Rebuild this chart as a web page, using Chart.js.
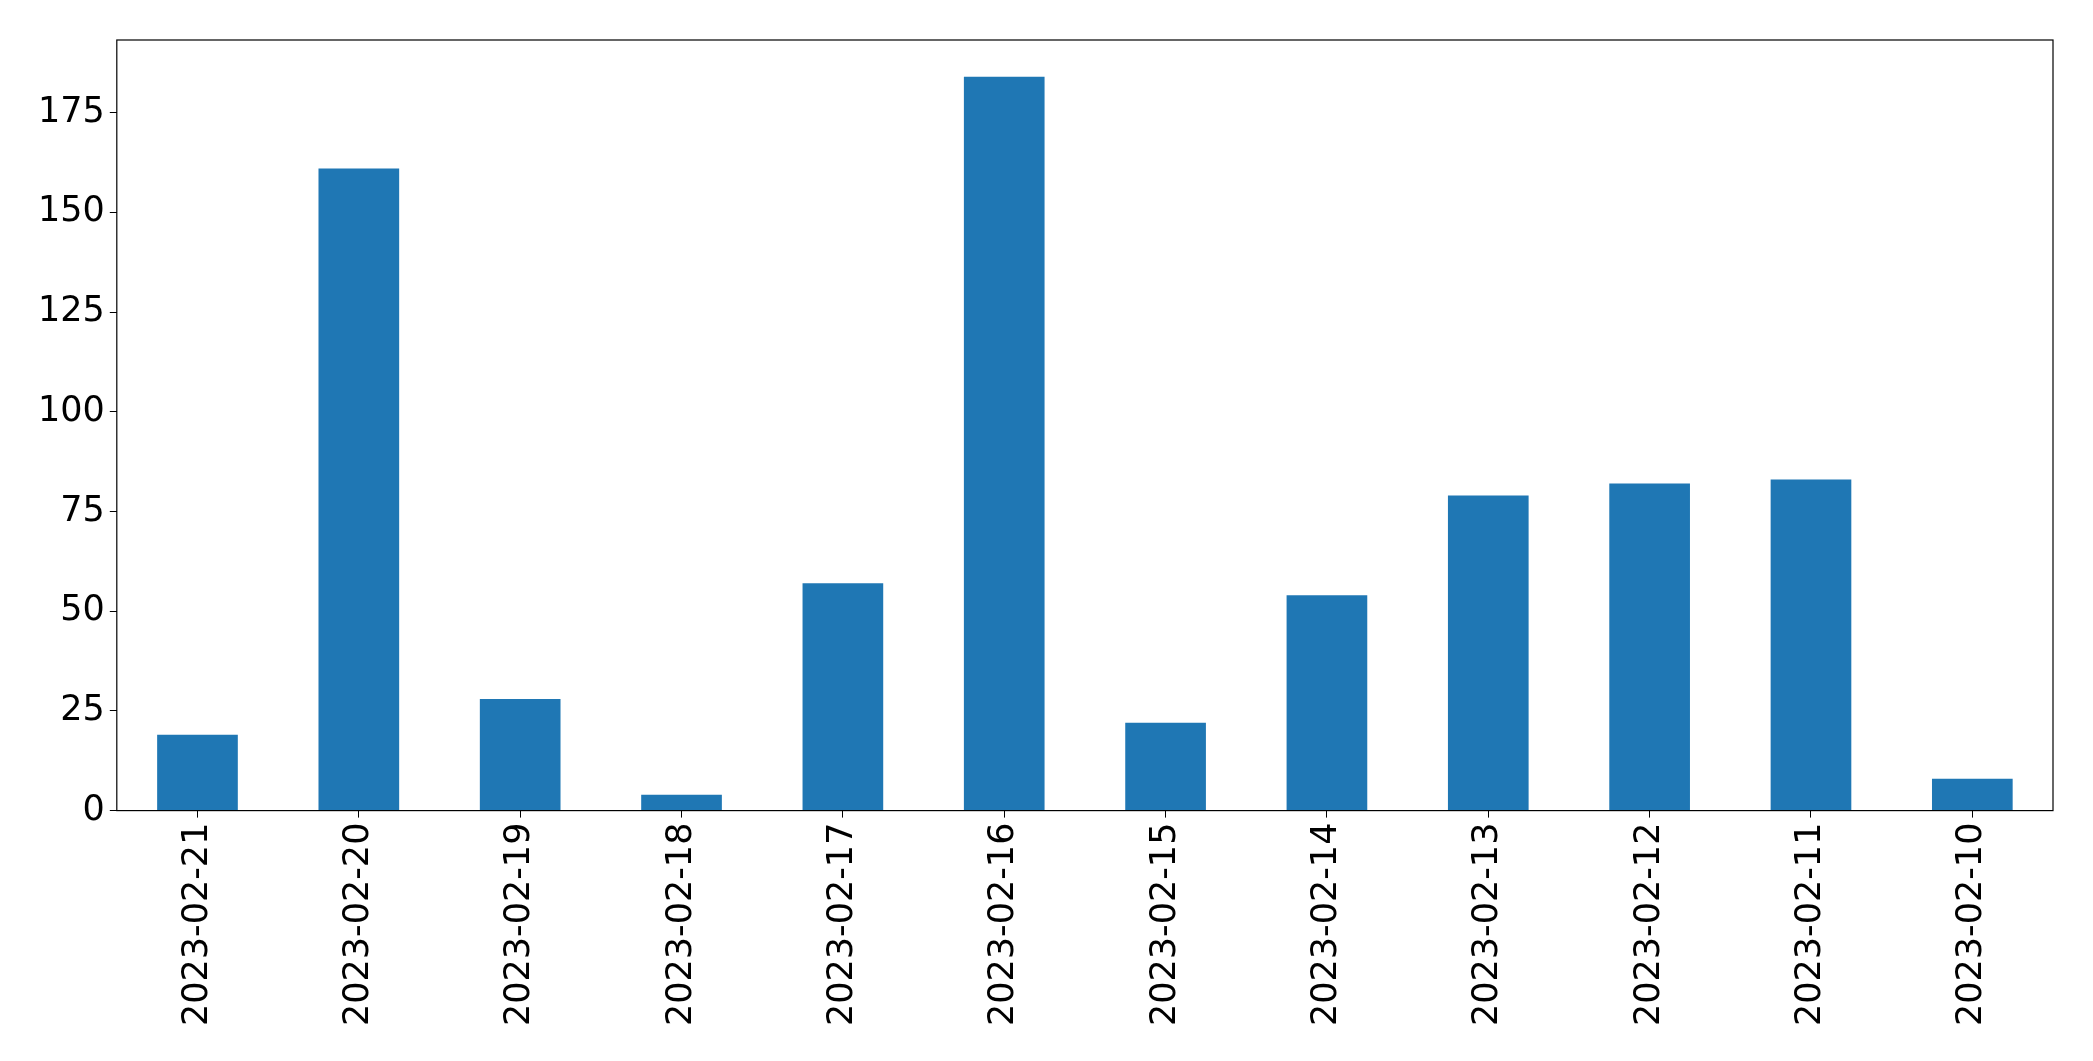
<!DOCTYPE html>
<html>
<head>
<meta charset="utf-8">
<script src="https://cdn.jsdelivr.net/npm/chart.js@4"></script>
<style>
  html, body { margin: 0; padding: 0; background: #fff; }
  #wrap { width: 2093px; height: 1061px; }
</style>
</head>
<body>
<div id="wrap"><canvas id="myChart"></canvas></div>
<script>
const dates = [
    '2023-02-21', '2023-02-20', '2023-02-19', '2023-02-18',
    '2023-02-17', '2023-02-16', '2023-02-15', '2023-02-14',
    '2023-02-13', '2023-02-12', '2023-02-11', '2023-02-10'
];
const counts = [19, 161, 28, 4, 57, 184, 22, 54, 79, 82, 83, 8];
const yTicks = [0, 25, 50, 75, 100, 125, 150, 175];

// box around the plot area like matplotlib's spines
const frame = {
    id: 'frame',
    afterDraw(chart) {
        const a = chart.chartArea;
        const c = chart.ctx;
        c.save();
        c.strokeStyle = '#000';
        c.lineWidth = 1.2;
        c.strokeRect(a.left, a.top, a.right - a.left, a.bottom - a.top);
        c.restore();
    }
};

const ctx = document.getElementById('myChart');

new Chart(ctx, {
    type: 'bar',
    data: {
        labels: dates,
        datasets: [{
            data: counts,
            backgroundColor: '#1f77b4',
            categoryPercentage: 1.0,
            barPercentage: 0.5
        }]
    },
    options: {
        responsive: true,
        maintainAspectRatio: false,
        animation: false,
        layout: { padding: { top: 40, right: 40, left: 33, bottom: 30 } },
        plugins: { legend: { display: false }, tooltip: { enabled: false } },
        scales: {
            x: {
                offset: true,
                grid: { drawOnChartArea: false, tickLength: 7, tickColor: '#000', offset: false },
                border: { display: false },
                ticks: {
                    autoSkip: false, minRotation: 90, maxRotation: 90, padding: 5,
                    color: '#000', font: { family: 'DejaVu Sans', size: 35 }
                }
            },
            y: {
                min: 0,
                max: 193.2,
                afterBuildTicks(axis) { axis.ticks = yTicks.map(v => ({ value: v })); },
                grid: { drawOnChartArea: false, tickLength: 7, tickColor: '#000' },
                border: { display: false },
                ticks: {
                    padding: 5, color: '#000',
                    font: { family: 'DejaVu Sans', size: 35 }
                }
            }
        }
    },
    plugins: [frame]
});
</script>
</body>
</html>
